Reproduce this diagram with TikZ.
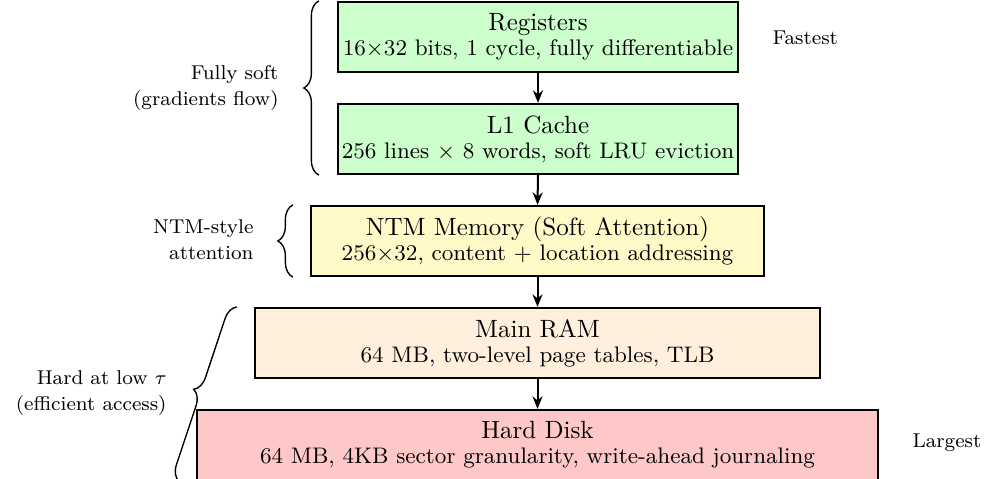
\documentclass[tikz,border=0pt]{standalone}
\usetikzlibrary{decorations.pathreplacing,arrows.meta}
\definecolor{regfill}{RGB}{204,255,204}
\definecolor{ntmfill}{RGB}{255,250,200}
\definecolor{ramfill}{RGB}{255,240,222}
\definecolor{diskfill}{RGB}{255,200,200}
\tikzset{
  membox/.style={draw=black, line width=0.9pt, minimum height=28pt, align=center, inner sep=0pt},
  flow/.style={-{Stealth[length=5pt,width=4pt]}, line width=0.8pt},
  brc/.style={decorate, decoration={brace, amplitude=6pt}, line width=0.55pt},
  side/.style={font=\footnotesize, align=right, inner sep=0pt},
  note/.style={font=\footnotesize, inner sep=0pt}
}
\begin{document}
\begin{tikzpicture}[x=0.4pt,y=-0.4pt]
\useasboundingbox (0,0) rectangle (987,479);
\node[membox, fill=regfill, minimum width=160pt] (reg) at (538,37)
  {Registers\\[-2pt]{\small 16$\times$32 bits, 1 cycle, fully differentiable}};
\node[membox, fill=regfill, minimum width=160pt] (l1) at (538,139)
  {L1 Cache\\[-2pt]{\small 256 lines $\times$ 8 words, soft LRU eviction}};
\node[membox, fill=ntmfill, minimum width=181.2pt] (ntm) at (537.5,241)
  {NTM Memory (Soft Attention)\\[-2pt]{\small 256$\times$32, content + location addressing}};
\node[membox, fill=ramfill, minimum width=226pt] (ram) at (537.5,343)
  {Main RAM\\[-2pt]{\small 64 MB, two-level page tables, TLB}};
\node[membox, fill=diskfill, minimum width=272.4pt] (disk) at (537.5,445)
  {Hard Disk\\[-2pt]{\small 64 MB, 4KB sector granularity, write-ahead journaling}};
\draw[flow] (reg.south) -- (l1.north);
\draw[flow] (l1.south) -- (ntm.north);
\draw[flow] (ntm.south) -- (ram.north);
\draw[flow] (ram.south) -- (disk.north);
\draw[brc] ([xshift=-7.2pt]l1.south west) -- ([xshift=-7.2pt]reg.north west);
\draw[brc] ([xshift=-6.8pt]ntm.south west) -- ([xshift=-6.8pt]ntm.north west);
\draw[brc] ([xshift=-6.8pt]disk.south west) -- ([xshift=-6.8pt]ram.north west);
\node[side, anchor=east] (lsoft) at (279,88) {Fully soft\\[1pt](gradients flow)};
\node[side, anchor=east] (lntm) at (254,240) {NTM-style\\[1pt]attention};
\node[side, anchor=east] (lhard) at (167,393) {Hard at low $\tau$\\[1pt](efficient access)};
\node[note, anchor=west] (fast) at (772,38) {Fastest};
\node[note, anchor=west] (large) at (912,443) {Largest};
\end{tikzpicture}
\end{document}
